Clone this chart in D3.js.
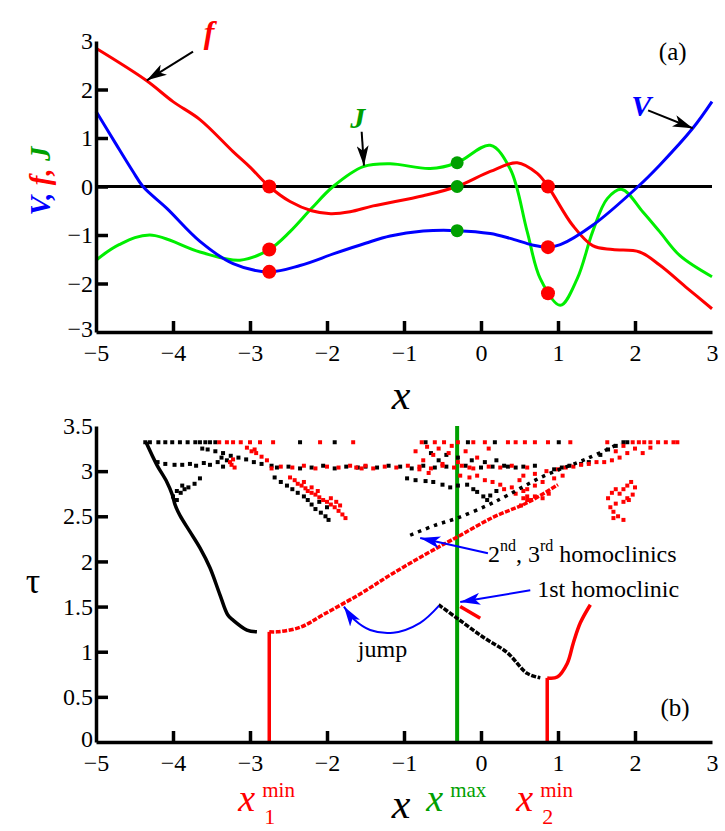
<!DOCTYPE html>
<html>
<head>
<meta charset="utf-8">
<script src="https://cdn.jsdelivr.net/npm/d3@7"></script>
<style>
  body { margin: 0; background: #fff; }
  text { font-family: "Liberation Serif", "DejaVu Serif", serif; }
</style>
</head>
<body>
<div id="chart"></div>
<script>
// ---- panel (a): V, f, J versus x ----
var vData = [[-5,1.55],[-4.75,0.9],[-4.52,0.31],[-4.39,0],[-4.08,-0.45],[-3.65,-1.13],[-3.22,-1.59],[-2.75,-1.76],
  [-2.35,-1.63],[-1.9,-1.38],[-1.5,-1.17],[-1.18,-1.02],[-0.75,-0.92],[-0.31,-0.91],[0.12,-0.97],[0.38,-1.07],
  [0.68,-1.21],[0.87,-1.25],[1.03,-1.2],[1.45,-0.8],[2.04,0],[2.32,0.44],[2.75,1.2],[3,1.75]];
var fData = [[-5,2.85],[-4.35,2.19],[-4,1.75],[-3.65,1.38],[-3.22,0.72],[-3,0.4],[-2.75,0],[-2.48,-0.31],[-2.2,-0.5],
  [-1.95,-0.56],[-1.7,-0.52],[-1.4,-0.4],[-0.75,-0.19],[-0.31,0],[0.12,0.31],[0.47,0.49],[0.73,0.27],[0.87,0],
  [1.19,-0.8],[1.45,-1.22],[1.71,-1.3],[2.06,-1.35],[2.32,-1.62],[2.68,-2.1],[3,-2.52]];
var jData = [[-5,-1.52],[-4.7,-1.2],[-4.3,-1.0],[-3.65,-1.35],[-3.13,-1.52],[-2.75,-1.3],[-2.48,-0.93],[-2.2,-0.45],
  [-1.92,0],[-1.53,0.41],[-1.18,0.47],[-0.66,0.37],[-0.31,0.49],[0.12,0.85],[0.38,0.36],[0.6,-0.93],[0.77,-1.9],
  [1.03,-2.45],[1.25,-1.9],[1.45,-0.93],[1.64,-0.25],[1.83,-0.06],[2.1,-0.52],[2.32,-0.93],[2.58,-1.42],[3,-1.86]];
var redDots = [[-2.75,0],[-2.75,-1.3],[-2.75,-1.76],[0.87,0],[0.87,-1.25],[0.87,-2.2]];
var greenDots = [[-0.31,0.49],[-0.31,0],[-0.31,-0.91]];
var xTicks = [-5,-4,-3,-2,-1,0,1,2,3];
var yTicksTop = [-3,-2,-1,0,1,2,3];

// ---- panel (b): tau versus x ----
var blackLeft = [[-4.35,3.32],[-4.21,3.07],[-4.08,2.88],[-4.01,2.74],[-3.97,2.62],[-3.91,2.51],[-3.78,2.33],[-3.65,2.15],
  [-3.52,1.93],[-3.39,1.63],[-3.29,1.41],[-3.22,1.35],[-3.04,1.24],[-2.91,1.22]];
var redLeft = [[-2.75,1.22],[-2.65,1.22],[-2.35,1.27],[-2.05,1.41],[-1.57,1.64],[-1.14,1.87],[-0.57,2.15],[-0.31,2.27],
  [0.16,2.49],[0.6,2.65],[1.0,2.85]];
var blackRight = [[-0.55,1.52],[-0.31,1.37],[0.03,1.16],[0.34,0.99],[0.6,0.76],[0.77,0.71]];
var redRight = [[0.86,0.71],[0.99,0.72],[1.12,0.87],[1.2,1.1],[1.29,1.32],[1.42,1.52]];
var redShort = [[-0.27,1.5],[-0.01,1.37]];
var blackUpper = [[-0.92,2.29],[-0.6,2.4],[-0.31,2.48],[0.08,2.62],[0.34,2.73],[0.8,2.94],[1.38,3.14],[1.81,3.31]];
var blackScatter = [
  [-4.36,3.32],[-4.3,3.32],[-4.19,3.32],[-4.1,3.32],[-4.01,3.32],[-3.91,3.32],[-3.81,3.32],[-3.71,3.32],[-3.65,3.32],
  [-3.58,3.32],[-3.52,3.32],[-3.45,3.32],[-2.35,3.32],[-1.9,3.32],[-0.72,3.32],[-0.17,3.32],[0.18,3.32],[1.01,3.32],
  [1.85,3.32],[1.9,3.32],
  [-3.62,3.25],[-3.55,3.24],[-3.45,3.22],[-3.35,3.2],[-3.25,3.17],[-3.15,3.15],[-3.05,3.13],[-2.95,3.1],[-2.85,3.08],[-2.72,3.06],
  [-4.2,3.1],[-4.1,3.08],[-3.98,3.07],[-3.88,3.07],[-3.78,3.08],[-3.7,3.06],[-3.6,3.09],[-3.52,3.07],[-3.42,3.1],
  [-3.35,3.05],[-3.3,3.12],[-3.37,3.15],
  [-4.0,2.72],[-3.95,2.68],[-3.9,2.76],[-3.85,2.8],[-3.8,2.82],[-3.72,2.86],[-3.65,2.92],[-3.95,2.78],[-3.88,2.84],
  [-2.65,3.04],[-2.5,3.05],[-2.35,3.03],[-2.2,3.04],[-2.05,3.06],[-1.9,3.03],[-1.75,3.05],[-1.6,3.04],
  [-2.68,2.93],[-2.6,2.88],[-2.52,2.84],[-2.45,2.8],[-2.38,2.76],[-2.3,2.72],[-2.25,2.68],[-2.2,2.63],[-2.15,2.58],
  [-2.08,2.54],[-2.02,2.5],[-1.98,2.46],[-2.1,2.66],[-2.0,2.6],
  [-1.5,3.05],[-1.35,3.04],[-1.2,3.06],[-1.05,3.05],[-0.9,3.03],[-0.75,3.06],[-0.6,3.04],[-0.45,3.05],[-0.2,3.06],
  [0.0,3.04],[0.15,3.05],[0.3,3.06],[0.45,3.04],[0.55,3.05],[0.7,3.06],
  [-0.96,2.92],[-0.85,2.9],[-0.72,2.89],[-0.62,2.88],[-0.5,2.85],[-0.4,2.82],[-0.3,2.84],[-0.18,2.85],[-0.1,2.8],
  [-0.05,2.77],[0.03,2.72],[0.08,2.68],[0.12,2.73],[0.2,2.78],
  [-0.65,3.2],[-0.55,3.12],[-0.45,3.18],[-0.3,3.15],[-0.12,3.12],[0.05,3.1],[0.2,3.12],[0.35,3.05],
  [0.95,3.02],[1.05,3.04],[1.15,3.06],[1.3,3.08],[1.4,3.1],[1.55,3.18],[1.65,3.24],[1.75,3.28]];
var redScatter = [
  [-3.4,3.32],[-3.3,3.32],[-3.22,3.32],[-3.12,3.32],[-3.0,3.32],[-2.87,3.32],[-2.7,3.32],[-2.09,3.32],[-1.66,3.32],
  [-0.77,3.32],[-0.6,3.32],[-0.48,3.32],[-0.3,3.32],[-0.1,3.32],[0.05,3.32],[0.35,3.32],[0.45,3.32],[0.57,3.32],
  [0.7,3.32],[0.87,3.32],[1.16,3.32],[1.64,3.32],[1.97,3.32],[2.05,3.32],[2.12,3.32],[2.2,3.32],[2.3,3.32],[2.4,3.32],
  [2.5,3.32],[2.55,3.32],
  [-3.24,3.07],[-3.22,3.13],[-3.2,3.04],[-3.26,3.1],
  [-3.04,3.26],[-2.98,3.22],[-2.92,3.2],[-2.85,3.16],[-2.78,3.12],[-2.94,3.24],
  [-2.72,3.03],[-2.6,3.05],[-2.45,3.04],[-2.3,3.06],[-2.15,3.03],[-2.0,3.05],[-1.85,3.04],[-1.7,3.06],[-1.55,3.03],
  [-2.48,2.93],[-2.42,2.9],[-2.38,2.86],[-2.33,2.84],[-2.28,2.81],[-2.25,2.78],[-2.2,2.76],[-2.15,2.74],[-2.1,2.71],
  [-2.05,2.68],[-2.0,2.66],[-1.95,2.63],[-1.9,2.6],[-1.85,2.56],[-1.8,2.52],[-1.76,2.48],[-2.3,2.88],[-2.2,2.82],
  [-2.12,2.78],[-1.95,2.7],[-1.88,2.66],[-1.83,2.62],
  [-1.62,3.04],[-1.5,3.06],[-1.4,3.03],[-1.25,3.05],[-1.1,3.04],[-0.95,3.06],[-0.8,3.05],[-0.65,3.03],[-0.5,3.06],
  [-0.35,3.04],[-0.25,3.06],[-0.1,3.03],[0.1,3.05],[0.25,3.04],[0.4,3.06],[0.6,3.04],
  [-0.85,3.22],[-0.75,3.12],[-0.7,3.27],[-0.62,3.18],[-0.55,3.25],[-0.5,3.08],[-0.42,3.2],[-0.38,3.28],[-0.3,3.1],
  [-0.2,3.22],[-0.15,3.04],[-0.05,3.15],[0.1,3.25],[-0.8,3.02],[-0.68,2.98],
  [-0.27,2.95],[-0.15,2.93],[-0.05,2.95],[0.05,2.9],[0.15,2.88],[0.25,2.85],[0.3,2.8],[0.4,2.82],[0.5,2.9],[0.45,2.75],
  [0.55,2.78],[0.6,2.72],[0.65,2.68],
  [0.55,2.95],[0.7,2.97],[0.85,3.0],[1.0,3.02],[1.1,3.04],[1.2,3.05],[1.3,3.07],[1.4,3.08],[1.5,3.1],[1.6,3.1],
  [1.7,3.12],[1.8,3.15],[1.9,3.2],[1.75,3.22],[2.0,3.25],[2.1,3.2],[1.85,3.28],[2.2,3.26],
  [0.6,2.8],[0.7,2.84],[0.8,2.88],[0.95,2.92],[1.06,2.95],
  [0.52,2.62],[0.6,2.68],[0.7,2.72],[0.8,2.7],[0.88,2.75],[0.55,2.7],
  [1.65,2.7],[1.7,2.76],[1.75,2.8],[1.8,2.75],[1.85,2.8],[1.9,2.84],[1.95,2.88],[2.0,2.82],[1.97,2.74],[1.92,2.68],
  [1.85,2.66],[1.75,2.64],[1.68,2.6],[1.72,2.55],[1.78,2.5],[1.85,2.46],[1.72,2.48],[1.9,2.7]];
var xMin1 = -2.75, xMax = -0.31, xMin2 = 0.86;
var tauMin1 = 1.22, tauMin2 = 0.71;
var yTicksBot = [0,0.5,1,1.5,2,2.5,3,3.5];

var RED = "#ff0000", BLUE = "#0000ff", LIGHTGREEN = "#00ee00", GREEN = "#00a000";
var SERIF = '"Liberation Serif", "DejaVu Serif", serif';

var svg = d3.select("#chart").append("svg").attr("width", 725).attr("height", 831)
  .attr("font-family", SERIF);

var defs = svg.append("defs");
function marker(id, color) {
  defs.append("marker").attr("id", id).attr("viewBox", "0 0 20 12")
    .attr("refX", 20).attr("refY", 6).attr("markerWidth", 20).attr("markerHeight", 12)
    .attr("markerUnits", "userSpaceOnUse").attr("orient", "auto")
    .append("path").attr("d", "M0,0 L20,6 L0,12 L5,6 Z").attr("fill", color);
}
marker("arrBlack", "#000");
marker("arrBlue", BLUE);

var x = d3.scaleLinear().domain([-5, 3]).range([96, 712]);
var yA = d3.scaleLinear().domain([-3, 3]).range([332, 41]);
var yB = d3.scaleLinear().domain([0, 3.5]).range([742, 426]);

function drawAxes(g, yScale, yTicks, yFmt, axisY) {
  var xa = g.append("g").attr("transform", "translate(0," + axisY + ")")
    .call(d3.axisBottom(x).tickValues(xTicks).tickSizeInner(-11).tickSizeOuter(0).tickPadding(12));
  var ya = g.append("g").attr("transform", "translate(96,0)")
    .call(d3.axisLeft(yScale).tickValues(yTicks).tickFormat(yFmt).tickSizeInner(-12).tickSizeOuter(0).tickPadding(3));
  [xa, ya].forEach(function (a) {
    a.attr("font-family", SERIF);
    a.select(".domain").attr("stroke-width", 3.5).attr("stroke", "#000");
    a.selectAll(".tick line").attr("stroke-width", 3.5).attr("stroke", "#000");
    a.selectAll(".tick text").attr("font-size", 24).attr("fill", "#000").attr("font-family", SERIF);
  });
  // no tick marks at the ends of the axes
  xa.selectAll(".tick").filter(function (d) { return d === -5 || d === 3; }).select("line").remove();
  ya.selectAll(".tick").filter(function (d, i) { return i === 0 || i === yTicks.length - 1; }).select("line").remove();
  // keep the corner labels apart
  ya.selectAll(".tick").filter(function (d, i) { return i === 0; }).select("text").attr("dy", "0.2em");
}

// ---------- panel (a) ----------
var ga = svg.append("g");
var lineA = d3.line().x(function (d) { return x(d[0]); }).y(function (d) { return yA(d[1]); }).curve(d3.curveCatmullRom);

ga.append("line").attr("x1", x(-5)).attr("x2", x(3)).attr("y1", yA(0)).attr("y2", yA(0))
  .attr("stroke", "#000").attr("stroke-width", 3);

[[jData, LIGHTGREEN], [fData, RED], [vData, BLUE]].forEach(function (s) {
  ga.append("path").datum(s[0]).attr("d", lineA).attr("fill", "none")
    .attr("stroke", s[1]).attr("stroke-width", 3);
});

ga.selectAll(".rdot").data(redDots).enter().append("circle")
  .attr("cx", function (d) { return x(d[0]); }).attr("cy", function (d) { return yA(d[1]); })
  .attr("r", 7).attr("fill", RED);
ga.selectAll(".gdot").data(greenDots).enter().append("circle")
  .attr("cx", function (d) { return x(d[0]); }).attr("cy", function (d) { return yA(d[1]); })
  .attr("r", 6.5).attr("fill", GREEN);

drawAxes(ga, yA, yTicksTop, d3.format("d"), 332);

// annotations (a)
function arrowA(x0, y0, x1, y1) {
  ga.append("line").attr("x1", x(x0)).attr("y1", yA(y0)).attr("x2", x(x1)).attr("y2", yA(y1))
    .attr("stroke", "#000").attr("stroke-width", 2).attr("marker-end", "url(#arrBlack)");
}
arrowA(-3.74, 2.78, -4.34, 2.19);
arrowA(-1.55, 1.13, -1.52, 0.43);
arrowA(2.17, 1.57, 2.75, 1.2);

ga.append("text").attr("x", x(-3.53)).attr("y", yA(2.95)).attr("text-anchor", "middle")
  .attr("font-size", 32).attr("font-style", "italic").attr("font-weight", "bold").attr("fill", RED).text("f");
ga.append("text").attr("x", x(-1.6)).attr("y", yA(1.2)).attr("text-anchor", "middle")
  .attr("font-size", 30).attr("font-style", "italic").attr("font-weight", "bold").attr("fill", GREEN).text("J");
ga.append("text").attr("x", x(2.08)).attr("y", yA(1.46)).attr("text-anchor", "middle")
  .attr("font-size", 30).attr("font-style", "italic").attr("font-weight", "bold").attr("fill", BLUE).text("V");
ga.append("text").attr("x", x(2.49)).attr("y", yA(2.6)).attr("text-anchor", "middle")
  .attr("font-size", 25).text("(a)");

var yl = ga.append("text").attr("transform", "translate(50,181) rotate(-90)").attr("text-anchor", "middle")
  .attr("font-size", 29).attr("font-style", "italic").attr("font-weight", "bold");
yl.append("tspan").attr("fill", BLUE).text("V, ");
yl.append("tspan").attr("fill", RED).text("f, ");
yl.append("tspan").attr("fill", GREEN).text("J");

ga.append("text").attr("x", 401).attr("y", 409).attr("text-anchor", "middle")
  .attr("font-size", 42).attr("font-style", "italic").text("x");

// ---------- panel (b) ----------
var gb = svg.append("g");
var lineB = d3.line().x(function (d) { return x(d[0]); }).y(function (d) { return yB(d[1]); }).curve(d3.curveCatmullRom);

// vertical markers
[[xMin1, tauMin1, RED, 3.5], [xMin2, tauMin2, RED, 3.5], [xMax, 3.5, GREEN, 4]].forEach(function (v) {
  gb.append("line").attr("x1", x(v[0])).attr("x2", x(v[0])).attr("y1", yB(0)).attr("y2", yB(v[1]))
    .attr("stroke", v[2]).attr("stroke-width", v[3]);
});

gb.selectAll(".bs").data(blackScatter).enter().append("rect")
  .attr("x", function (d) { return x(d[0]) - 2; }).attr("y", function (d) { return yB(d[1]) - 2; })
  .attr("width", 4).attr("height", 4).attr("fill", "#000");
gb.selectAll(".rs").data(redScatter).enter().append("rect")
  .attr("x", function (d) { return x(d[0]) - 2; }).attr("y", function (d) { return yB(d[1]) - 2; })
  .attr("width", 4).attr("height", 4).attr("fill", RED);

gb.append("path").datum(blackLeft).attr("d", lineB).attr("fill", "none").attr("stroke", "#000").attr("stroke-width", 3.5);
gb.append("path").datum(redLeft).attr("d", lineB).attr("fill", "none").attr("stroke", RED).attr("stroke-width", 3.5)
  .attr("stroke-dasharray", "5,1.5");
gb.append("path").datum(blackRight).attr("d", lineB).attr("fill", "none").attr("stroke", "#000").attr("stroke-width", 3.5)
  .attr("stroke-dasharray", "5,1.5");
gb.append("path").datum(redRight).attr("d", lineB).attr("fill", "none").attr("stroke", RED).attr("stroke-width", 3.5);
gb.append("path").datum(redShort).attr("d", lineB).attr("fill", "none").attr("stroke", RED).attr("stroke-width", 3.5);
gb.append("path").datum(blackUpper).attr("d", lineB).attr("fill", "none").attr("stroke", "#000").attr("stroke-width", 3.5)
  .attr("stroke-dasharray", "3.5,5");

drawAxes(gb, yB, yTicksBot, function (d) { return d3.format("")(d); }, 742);

// annotations (b)
var jumpArrow = [[-0.545, 1.51], [-0.79, 1.32], [-1.14, 1.21], [-1.44, 1.24], [-1.64, 1.35], [-1.78, 1.5]];
gb.append("path").datum(jumpArrow).attr("d", lineB).attr("fill", "none").attr("stroke", BLUE)
  .attr("stroke-width", 2).attr("marker-end", "url(#arrBlue)");
function arrowB(x0, y0, x1, y1) {
  gb.append("line").attr("x1", x(x0)).attr("y1", yB(y0)).attr("x2", x(x1)).attr("y2", yB(y1))
    .attr("stroke", BLUE).attr("stroke-width", 2).attr("marker-end", "url(#arrBlue)");
}
arrowB(0.09, 2.09, -0.79, 2.26);
arrowB(0.64, 1.68, -0.27, 1.55);

var t2 = gb.append("text").attr("x", x(0.09)).attr("y", yB(1.99)).attr("font-size", 24);
t2.append("tspan").text("2");
t2.append("tspan").attr("font-size", 16).attr("dy", -11).text("nd");
t2.append("tspan").attr("dy", 11).text(", 3");
t2.append("tspan").attr("font-size", 16).attr("dy", -11).text("rd");
t2.append("tspan").attr("dy", 11).text(" homoclinics");
gb.append("text").attr("x", x(0.73)).attr("y", yB(1.61)).attr("font-size", 24).text("1st homoclinic");
gb.append("text").attr("x", x(-1.6)).attr("y", yB(0.94)).attr("font-size", 24).text("jump");
gb.append("text").attr("x", x(2.52)).attr("y", yB(0.29)).attr("text-anchor", "middle").attr("font-size", 25).text("(b)");

gb.append("text").attr("x", 33).attr("y", 593).attr("text-anchor", "middle")
  .attr("font-size", 36).text("τ");

gb.append("text").attr("x", 401).attr("y", 818).attr("text-anchor", "middle")
  .attr("font-size", 42).attr("font-style", "italic").text("x");

function subLabel(xv, color, sup, sub) {
  var g = gb.append("g").attr("fill", color);
  g.append("text").attr("x", x(xv) - 31).attr("y", 811).attr("font-size", 38).attr("font-style", "italic").text("x");
  g.append("text").attr("x", x(xv) - 7).attr("y", 797).attr("font-size", 21).text(sup);
  if (sub) g.append("text").attr("x", x(xv) - 5).attr("y", 824).attr("font-size", 22).text(sub);
}
subLabel(xMin1, RED, "min", "1");
subLabel(xMax, GREEN, "max", null);
subLabel(xMin2, RED, "min", "2");
</script>
</body>
</html>
